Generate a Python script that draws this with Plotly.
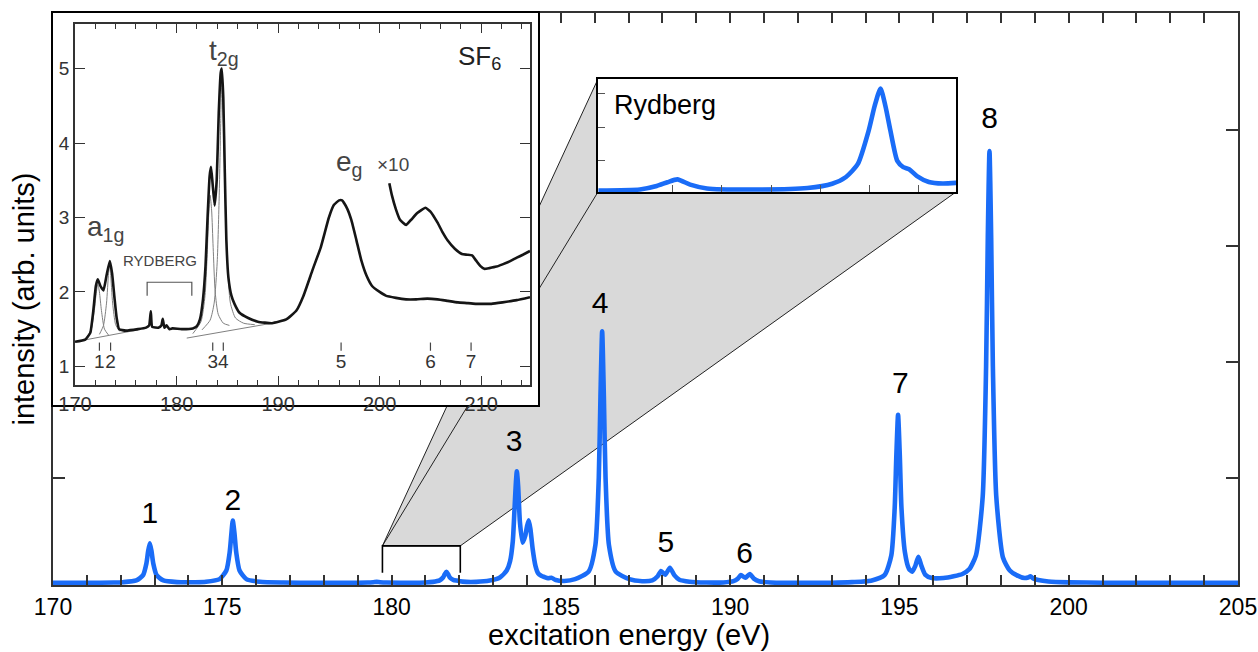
import plotly.graph_objects as go

FONT = "Liberation Sans, Arial, Helvetica, sans-serif"
BLUE = "#1a6cf7"

# ---------------- main computed spectrum ----------------
energy = [170.0, 171.0, 171.8, 172.06, 172.46, 172.66, 172.76, 172.81, 172.86, 172.91, 172.96, 173.06, 173.26,
          173.66, 174.2, 174.52, 174.92, 175.12, 175.22, 175.27, 175.31, 175.36, 175.41, 175.51, 175.71, 176.11,
          176.8, 177.8, 178.8, 179.3, 179.46, 179.56, 179.66, 179.85, 180.5, 181.0, 181.22, 181.42, 181.52,
          181.57, 181.62, 181.67, 181.72, 181.82, 181.92, 182.1, 182.5, 182.9, 183.2, 183.4, 183.5, 183.58,
          183.63, 183.67, 183.7, 183.74, 183.79, 183.87, 183.95, 184.0, 184.05, 184.1, 184.17, 184.25, 184.33,
          184.42, 184.52, 184.62, 184.72, 184.85, 185.1, 185.42, 185.82, 186.02, 186.12, 186.17, 186.22, 186.27,
          186.32, 186.42, 186.62, 187.02, 187.4, 187.7, 187.86, 187.96, 188.08, 188.22, 188.35, 188.5, 188.8,
          189.3, 189.8, 190.1, 190.22, 190.32, 190.45, 190.58, 190.7, 190.85, 191.2, 192.0, 193.0, 193.6,
          194.16, 194.56, 194.76, 194.86, 194.91, 194.96, 195.01, 195.06, 195.16, 195.28, 195.38, 195.47,
          195.56, 195.65, 195.76, 195.96, 196.3, 196.6, 196.86, 197.06, 197.26, 197.46, 197.56, 197.61, 197.66,
          197.71, 197.76, 197.86, 198.06, 198.26, 198.46, 198.7, 198.8, 198.87, 198.95, 199.1, 199.4, 200.0,
          201.0, 203.0, 205.0]
intensity = [0.093, 0.094, 0.096, 0.099, 0.114, 0.160, 0.263, 0.366, 0.434, 0.366, 0.263, 0.160, 0.114,
             0.100, 0.099, 0.103, 0.126, 0.200, 0.361, 0.522, 0.630, 0.522, 0.361, 0.200, 0.126, 0.103,
             0.096, 0.094, 0.094, 0.096, 0.099, 0.102, 0.099, 0.096, 0.095, 0.097, 0.102, 0.115, 0.140,
             0.168, 0.189, 0.168, 0.140, 0.120, 0.113, 0.104, 0.102, 0.113, 0.140, 0.200, 0.280, 0.450,
             0.720, 0.950, 1.056, 0.920, 0.620, 0.440, 0.500, 0.580, 0.633, 0.560, 0.380, 0.240, 0.175,
             0.155, 0.143, 0.133, 0.138, 0.118, 0.110, 0.125, 0.190, 0.420, 1.000, 1.700, 2.264, 1.700,
             1.000, 0.420, 0.190, 0.125, 0.108, 0.115, 0.150, 0.196, 0.163, 0.224, 0.160, 0.120, 0.103,
             0.096, 0.097, 0.108, 0.128, 0.160, 0.137, 0.169, 0.130, 0.108, 0.097, 0.094, 0.095, 0.100,
             0.112, 0.160, 0.330, 0.740, 1.200, 1.543, 1.200, 0.740, 0.360, 0.215, 0.190, 0.240,
             0.319, 0.240, 0.165, 0.135, 0.135, 0.150, 0.170, 0.210, 0.330, 0.840, 1.960, 3.070, 3.820,
             3.070, 1.960, 0.840, 0.310, 0.200, 0.160, 0.135, 0.140, 0.150, 0.132, 0.118, 0.105, 0.098,
             0.095, 0.093, 0.093]

peak_labels = ["1", "2", "3", "4", "5", "6", "7", "8"]
peak_label_x = [172.86, 175.31, 183.62, 186.16, 188.10, 190.43, 195.03, 197.66]
peak_label_y = [0.672, 0.784, 1.294, 2.487, 0.427, 0.326, 1.795, 4.085]

main_x_range = [170, 205]
main_y_range = [0.075, 5.01]
main_x_ticks = [170, 175, 180, 185, 190, 195, 200, 205]
main_y_ticks = [1, 2, 3, 4]

# zoom window marked on the main axis (eV, intensity)
zoom_window_x = [179.73, 182.03]
zoom_window_y = [0.18, 0.4127]

# ---------------- Rydberg zoom inset ----------------
ryd_energy = [178.75, 179.17, 179.34, 179.45, 179.55, 179.68, 179.85, 180.36, 180.87, 181.12, 181.26, 181.38,
              181.49, 181.55, 181.61, 181.66, 181.71, 181.78, 181.84, 181.90, 181.98, 182.10, 182.24, 182.39]
ryd_intensity = [0.0910, 0.0920, 0.0953, 0.0990, 0.1017, 0.0967, 0.0930, 0.0920, 0.0934, 0.0975, 0.1040,
                 0.1165, 0.1486, 0.1720, 0.1890, 0.1720, 0.1486, 0.1194, 0.1135, 0.1115, 0.1049, 0.0992,
                 0.0977, 0.0984]
ryd_x_range = [178.745, 182.375]
ryd_y_range = [0.0896, 0.1981]
ryd_x_ticks = [179.5, 180.0, 180.5, 181.0, 181.5, 182.0]
ryd_y_ticks = [0.1203, 0.1520, 0.1837]

# ---------------- SF6 experimental inset (scanned figure) ----------------
sf6_energy = [170.0, 171.0, 171.5, 171.8, 172.05, 172.24, 172.5, 172.8, 173.1, 173.42, 173.65, 173.9, 174.1,
              174.34, 175.0, 176.2, 177.0, 177.3, 177.46, 177.6, 178.2, 178.5, 178.64, 178.8, 179.0, 179.3,
              179.6, 180.5, 181.6, 182.0, 182.3, 182.6, 182.85, 183.05, 183.25, 183.39, 183.55, 183.75,
              183.95, 184.15, 184.35, 184.45, 184.6, 184.75, 184.9, 185.1, 185.4, 185.7, 186.2, 187.05,
              188.0, 189.4, 190.8, 191.8, 192.5, 193.4, 194.2, 195.0, 195.5, 196.0, 196.3, 196.8, 197.2,
              197.7, 198.2, 198.7, 199.25, 200.0, 200.6, 201.6, 202.6, 203.6, 204.7, 205.7, 206.7, 207.7,
              208.7, 209.5, 210.1, 211.0, 212.1, 213.5, 214.8]
sf6_yield = [1.33, 1.36, 1.45, 1.75, 2.08, 2.17, 2.08, 2.02, 2.22, 2.415, 2.25, 1.90, 1.65,
             1.50, 1.48, 1.50, 1.52, 1.55, 1.74, 1.53, 1.52, 1.55, 1.64, 1.52, 1.55, 1.50,
             1.51, 1.50, 1.51, 1.54, 1.63, 1.90, 2.35, 3.00, 3.55, 3.68, 3.45, 3.16,
             3.50, 4.40, 4.95, 5.00, 4.60, 3.60, 2.70, 2.20, 1.95, 1.84, 1.72, 1.65,
             1.60, 1.58, 1.63, 1.75, 1.95, 2.30, 2.60, 3.00, 3.17, 3.23, 3.23, 3.12, 2.97,
             2.70, 2.42, 2.22, 2.08, 2.00, 1.95, 1.92, 1.90, 1.90, 1.91, 1.90, 1.88, 1.86,
             1.85, 1.84, 1.84, 1.84, 1.86, 1.89, 1.93]
sf6_x10_energy = [200.95, 201.2, 201.6, 202.0, 202.6, 203.1, 203.7, 204.5, 205.0, 205.7, 206.2, 206.7, 207.4,
                  208.1, 208.6, 209.1, 209.5, 209.9, 210.3, 210.8, 211.5, 212.1, 212.8, 213.5, 214.1, 214.8]
sf6_x10_yield = [3.46, 3.30, 3.11, 2.97, 2.90, 2.97, 3.06, 3.13, 3.08, 2.93, 2.80, 2.69, 2.58,
                 2.51, 2.50, 2.49, 2.42, 2.35, 2.31, 2.32, 2.34, 2.37, 2.41, 2.46, 2.50, 2.55]
# fitted components (thin lines)
fit_base1_x = [170.0, 176.2]
fit_base1_y = [1.33, 1.49]
fit_base2_x = [181.0, 189.4]
fit_base2_y = [1.38, 1.58]
fit_c1_x = [171.2, 171.6, 171.9, 172.1, 172.25, 172.4, 172.6, 172.9, 173.3]
fit_c1_y = [1.40, 1.50, 1.75, 2.00, 2.10, 2.00, 1.75, 1.50, 1.42]
fit_c2_x = [172.4, 172.8, 173.1, 173.3, 173.4, 173.5, 173.7, 174.0, 174.4]
fit_c2_y = [1.43, 1.55, 1.85, 2.25, 2.36, 2.25, 1.85, 1.56, 1.47]
fit_c3_x = [181.6, 182.4, 182.8, 183.0, 183.15, 183.3, 183.45, 183.6, 183.8, 184.1, 184.6, 185.2]
fit_c3_y = [1.44, 1.60, 1.95, 2.45, 3.00, 3.30, 3.10, 2.60, 2.00, 1.70, 1.58, 1.55]
fit_c4_x = [182.5, 183.3, 183.7, 184.0, 184.2, 184.35, 184.45, 184.6, 184.8, 185.0, 185.3, 185.8, 186.6, 187.7]
fit_c4_y = [1.49, 1.62, 1.85, 2.40, 3.30, 4.30, 4.90, 4.30, 3.30, 2.40, 1.85, 1.65, 1.58, 1.56]

sf6_marker_labels = ["1", "2", "3", "4", "5", "6", "7"]
sf6_marker_x = [172.4, 173.5, 183.56, 184.6, 196.2, 205.0, 209.0]
sf6_marker_y = [1.21, 1.32]
sf6_marker_label_y = 1.035
rydberg_bracket_x = [177.1, 181.5]
rydberg_bracket_y = [1.95, 2.13]

sf6_x_range = [170, 214.8]
sf6_y_range = [0.75, 5.6]

# ---------------- layout geometry (paper fractions) ----------------
cover_dom_x = [0.0, 0.4093]
cover_dom_y = [0.3147, 1.0]
sf6_dom_x = [0.0186, 0.4025]
sf6_dom_y = [0.3497, 0.9808]
ryd_dom_x = [0.4599, 0.7620]
ryd_dom_y = [0.6871, 0.8846]

fig = go.Figure()

# main spectrum
fig.add_trace(go.Scatter(x=energy, y=intensity, mode="lines", xaxis="x", yaxis="y",
                         line=dict(color=BLUE, width=4.6, shape="spline", smoothing=0.6),
                         hoverinfo="skip", showlegend=False))
fig.add_trace(go.Scatter(x=peak_label_x, y=peak_label_y, text=peak_labels, mode="text", xaxis="x", yaxis="y",
                         textfont=dict(family=FONT, size=30, color="black"), hoverinfo="skip", showlegend=False))

# cover subplot (white box behind the scanned inset)
fig.add_trace(go.Scatter(x=[], y=[], xaxis="x2", yaxis="y2", showlegend=False))

# SF6 inset traces
thin = dict(color="#808080", width=1)
for xs, ys in [(fit_base1_x, fit_base1_y), (fit_base2_x, fit_base2_y), (fit_c1_x, fit_c1_y),
               (fit_c2_x, fit_c2_y), (fit_c3_x, fit_c3_y), (fit_c4_x, fit_c4_y)]:
    fig.add_trace(go.Scatter(x=xs, y=ys, mode="lines", xaxis="x3", yaxis="y3",
                             line=dict(thin, shape="spline", smoothing=0.6),
                             hoverinfo="skip", showlegend=False))
fig.add_trace(go.Scatter(x=sf6_energy, y=sf6_yield, mode="lines", xaxis="x3", yaxis="y3",
                         line=dict(color="#151515", width=2.6, shape="spline", smoothing=0.4),
                         hoverinfo="skip", showlegend=False))
fig.add_trace(go.Scatter(x=sf6_x10_energy, y=sf6_x10_yield, mode="lines", xaxis="x3", yaxis="y3",
                         line=dict(color="#151515", width=2.6, shape="spline", smoothing=0.4),
                         hoverinfo="skip", showlegend=False))
mk_x, mk_y = [], []
for xv in sf6_marker_x:
    mk_x += [xv, xv, None]
    mk_y += [sf6_marker_y[0], sf6_marker_y[1], None]
fig.add_trace(go.Scatter(x=mk_x, y=mk_y, mode="lines", xaxis="x3", yaxis="y3",
                         line=dict(color="#444444", width=1.2), hoverinfo="skip", showlegend=False))
fig.add_trace(go.Scatter(x=sf6_marker_x, y=[sf6_marker_label_y] * len(sf6_marker_x), text=sf6_marker_labels,
                         mode="text", xaxis="x3", yaxis="y3",
                         textfont=dict(family=FONT, size=19, color="#333333"), hoverinfo="skip", showlegend=False))
fig.add_trace(go.Scatter(x=[rydberg_bracket_x[0], rydberg_bracket_x[0], rydberg_bracket_x[1], rydberg_bracket_x[1]],
                         y=[rydberg_bracket_y[0], rydberg_bracket_y[1], rydberg_bracket_y[1], rydberg_bracket_y[0]],
                         mode="lines", xaxis="x3", yaxis="y3", line=dict(color="#555555", width=1.2),
                         hoverinfo="skip", showlegend=False))

# Rydberg inset
fig.add_trace(go.Scatter(x=ryd_energy, y=ryd_intensity, mode="lines", xaxis="x4", yaxis="y4",
                         line=dict(color=BLUE, width=4.6, shape="spline", smoothing=0.6),
                         hoverinfo="skip", showlegend=False))

# --------- shapes: zoom funnel ---------
def px(xv):
    return (xv - main_x_range[0]) / (main_x_range[1] - main_x_range[0])


def py(yv):
    return (yv - main_y_range[0]) / (main_y_range[1] - main_y_range[0])


p0 = (px(zoom_window_x[0]), py(zoom_window_y[1]))
p3 = (px(zoom_window_x[1]), py(zoom_window_y[1]))
tl = (ryd_dom_x[0], ryd_dom_y[1])
bl = (ryd_dom_x[0], ryd_dom_y[0])
br = (ryd_dom_x[1], ryd_dom_y[0])
poly = "M {} {} L {} {} L {} {} L {} {} L {} {} Z".format(p0[0], p0[1], tl[0], tl[1], bl[0], bl[1],
                                                        br[0], br[1], p3[0], p3[1])
shapes = [
    dict(type="path", xref="paper", yref="paper", path=poly, fillcolor="#d9d9d9",
         line=dict(color="#222222", width=1), layer="below"),
    dict(type="line", xref="paper", yref="paper", x0=p0[0], y0=p0[1], x1=bl[0], y1=bl[1],
         line=dict(color="#222222", width=1), layer="below"),
    dict(type="path", xref="x", yref="y",
         path="M {} {} L {} {} L {} {} L {} {}".format(zoom_window_x[0], zoom_window_y[0], zoom_window_x[0],
                                                       zoom_window_y[1], zoom_window_x[1], zoom_window_y[1],
                                                       zoom_window_x[1], zoom_window_y[0]),
         line=dict(color="black", width=1.6), layer="above"),
]

annotations = [
    dict(xref="x3", yref="y3", x=173.0, y=2.85, text="a<sub>1g</sub>", showarrow=False,
         font=dict(family=FONT, size=28, color="#444444")),
    dict(xref="x3", yref="y3", x=184.7, y=5.22, text="t<sub>2g</sub>", showarrow=False,
         font=dict(family=FONT, size=28, color="#444444")),
    dict(xref="x3", yref="y3", x=197.0, y=3.72, text="e<sub>g</sub>", showarrow=False,
         font=dict(family=FONT, size=28, color="#444444")),
    dict(xref="x3", yref="y3", x=201.3, y=3.71, text="×10", showarrow=False,
         font=dict(family=FONT, size=19, color="#444444")),
    dict(xref="x3", yref="y3", x=209.8, y=5.15, text="SF<sub>6</sub>", showarrow=False,
         font=dict(family=FONT, size=26, color="#222222")),
    dict(xref="x3", yref="y3", x=178.41, y=2.42, text="RYDBERG", showarrow=False,
         font=dict(family=FONT, size=15, color="#444444")),
    dict(xref="x4", yref="y4", x=179.42, y=0.1731, text="Rydberg", showarrow=False,
         font=dict(family=FONT, size=27, color="black")),
    dict(xref="paper", yref="paper", x=0.4860, y=-0.0874, text="excitation energy (eV)", showarrow=False,
         xanchor="center", yanchor="middle", font=dict(family=FONT, size=29, color="black")),
]

axis_common = dict(showgrid=False, zeroline=False, fixedrange=True)

fig.update_layout(
    width=1258, height=652,
    margin=dict(l=53, r=20, t=13, b=67, autoexpand=False),
    paper_bgcolor="white", plot_bgcolor="white",
    font=dict(family=FONT, color="black"),
    showlegend=False,
    shapes=shapes,
    annotations=annotations,
    xaxis=dict(domain=[0, 1], range=main_x_range, anchor="y", tickvals=main_x_ticks,
               ticks="inside", ticklen=10, tickwidth=1.5, tickcolor="#333333",
               minor=dict(dtick=1, tick0=170, ticks="inside", ticklen=10, tickwidth=1.5, tickcolor="#333333"),
               showline=True, linecolor="#333333", linewidth=2, mirror="allticks",
               tickfont=dict(family=FONT, size=23, color="black"), ticklabeloverflow="allow",
               automargin=False, **axis_common),
    yaxis=dict(domain=[0, 1], range=main_y_range, anchor="x", tickvals=main_y_ticks,
               ticks="inside", ticklen=12, tickwidth=1.5, tickcolor="#333333", showticklabels=False,
               showline=True, linecolor="#333333", linewidth=2, mirror="allticks",
               title=dict(text="intensity (arb. units)", font=dict(family=FONT, size=29), standoff=8),
               automargin=False, **axis_common),
    xaxis2=dict(domain=cover_dom_x, range=[0, 1], anchor="y2", showticklabels=False, ticks="",
                showline=True, linecolor="black", linewidth=2, mirror=True, **axis_common),
    yaxis2=dict(domain=cover_dom_y, range=[0, 1], anchor="x2", showticklabels=False, ticks="",
                showline=True, linecolor="black", linewidth=2, mirror=True, **axis_common),
    xaxis3=dict(domain=sf6_dom_x, range=sf6_x_range, anchor="y3", dtick=10, tick0=170,
                ticks="inside", ticklen=9, tickwidth=1.3, tickcolor="#333333",
                minor=dict(dtick=2, tick0=170, ticks="inside", ticklen=5, tickwidth=1.2, tickcolor="#333333"),
                showline=True, linecolor="#333333", linewidth=1.8, mirror="allticks",
                tickfont=dict(family=FONT, size=20, color="#333333"), **axis_common),
    yaxis3=dict(domain=sf6_dom_y, range=sf6_y_range, anchor="x3", tickvals=[1, 2, 3, 4, 5],
                ticks="inside", ticklen=10, tickwidth=1.3, tickcolor="#333333",
                showline=True, linecolor="#333333", linewidth=1.8, mirror="allticks",
                tickfont=dict(family=FONT, size=19, color="#333333"), **axis_common),
    xaxis4=dict(domain=ryd_dom_x, range=ryd_x_range, anchor="y4", tickvals=ryd_x_ticks,
                ticks="inside", ticklen=7, tickwidth=1, tickcolor="#555555", showticklabels=False,
                showline=True, linecolor="black", linewidth=2, mirror=True, **axis_common),
    yaxis4=dict(domain=ryd_dom_y, range=ryd_y_range, anchor="x4", tickvals=ryd_y_ticks,
                ticks="inside", ticklen=7, tickwidth=1, tickcolor="#555555", showticklabels=False,
                showline=True, linecolor="black", linewidth=2, mirror=True, **axis_common),
)

fig.write_html("out.html", config={"displayModeBar": False})
